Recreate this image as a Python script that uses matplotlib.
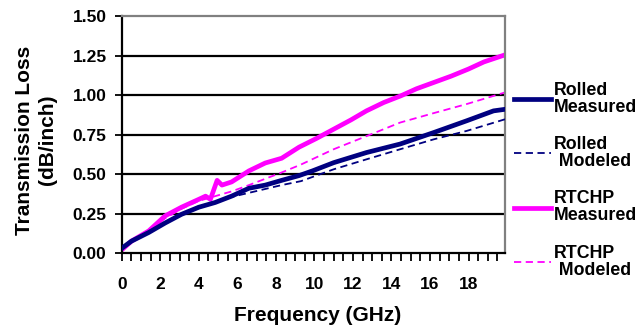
import matplotlib
matplotlib.use("Agg")
import matplotlib.pyplot as plt
from matplotlib.ticker import MultipleLocator

plt.rcParams["font.family"] = ["Liberation Sans", "DejaVu Sans"]
plt.rcParams["font.weight"] = "bold"

# data (GHz, dB/inch)
freq_rolled_meas = [0, 0.5, 1.4, 2.25, 3.1, 4.0, 4.85, 5.7, 6.6, 7.45, 8.3, 9.2,
                    9.9, 11.0, 12.7, 14.45, 16.2, 17.9, 19.3, 19.9]
rolled_meas = [0.03, 0.075, 0.13, 0.19, 0.245, 0.29, 0.32, 0.36, 0.41, 0.43, 0.46,
               0.49, 0.52, 0.572, 0.636, 0.69, 0.763, 0.837, 0.9, 0.91]

freq_rolled_mod = [0, 0.5, 1.4, 2.25, 3.1, 4.0, 5.7, 8.3, 9.3, 11.0, 12.7, 14.45,
                   16.2, 17.9, 19.9]
rolled_mod = [0.03, 0.075, 0.13, 0.19, 0.24, 0.285, 0.355, 0.43, 0.455, 0.53,
              0.593, 0.657, 0.72, 0.773, 0.847]

freq_rtchp_meas = [0, 0.5, 1.4, 2.25, 3.1, 4.0, 4.35, 4.6, 4.95, 5.2, 5.7, 6.6,
                   7.45, 8.3, 9.2, 10.1, 11.0, 11.9, 12.7, 13.6, 14.5, 15.3,
                   16.2, 17.1, 18.0, 18.8, 19.9]
rtchp_meas = [0.02, 0.075, 0.14, 0.235, 0.29, 0.34, 0.36, 0.34, 0.46, 0.43, 0.45,
              0.52, 0.57, 0.60, 0.67, 0.725, 0.784, 0.843, 0.90, 0.953, 0.996,
              1.04, 1.08, 1.12, 1.165, 1.21, 1.255]

freq_rtchp_mod = [0, 0.5, 1.4, 2.25, 3.1, 4.0, 4.85, 5.7, 6.6, 7.45, 8.3, 9.3,
                  11.0, 12.7, 14.45, 16.2, 17.9, 19.9]
rtchp_mod = [0.03, 0.08, 0.14, 0.22, 0.28, 0.33, 0.36, 0.39, 0.43, 0.47, 0.51,
             0.56, 0.657, 0.74, 0.826, 0.886, 0.943, 1.017]

x_ticks = list(range(0, 20, 2))
y_ticks = [0.0, 0.25, 0.5, 0.75, 1.0, 1.25, 1.5]

navy = "#000080"
magenta = "#ff00ff"

fig = plt.figure(figsize=(6.41, 3.29), dpi=100)
ax = fig.add_axes([0.19, 0.231, 0.598, 0.72])

for y in y_ticks[1:-1]:
    ax.axhline(y, color="black", lw=1.6, zorder=1)

ax.plot(freq_rolled_meas, rolled_meas, color=navy, lw=3.4, label="Rolled\nMeasured", zorder=3)
ax.plot(freq_rolled_mod, rolled_mod, color=navy, lw=1.3, ls=(0, (4, 2.5)),
        label="Rolled\n Modeled", zorder=3)
ax.plot(freq_rtchp_meas, rtchp_meas, color=magenta, lw=3.4, label="RTCHP\nMeasured", zorder=2)
ax.plot(freq_rtchp_mod, rtchp_mod, color=magenta, lw=1.3, ls=(0, (4, 2.5)),
        label="RTCHP\n Modeled", zorder=2)

ax.set_xlim(0, 19.9)
ax.set_ylim(0, 1.5)
ax.set_xticks(x_ticks)
ax.xaxis.set_minor_locator(MultipleLocator(0.5))
ax.set_yticks(y_ticks)
ax.set_yticklabels(["%.2f" % v for v in y_ticks])

ax.tick_params(axis="x", which="both", direction="out", length=6, width=1.3,
               pad=11, labelsize=12.5)
ax.tick_params(axis="y", direction="out", length=5, width=1.3, pad=6, labelsize=12.5)
for lbl in ax.get_xticklabels() + ax.get_yticklabels():
    lbl.set_fontweight("bold")

for side in ["left", "bottom"]:
    ax.spines[side].set_linewidth(1.6)
    ax.spines[side].set_color("black")
for side in ["top", "right"]:
    ax.spines[side].set_linewidth(1.6)
    ax.spines[side].set_color("#808080")

ax.set_xlabel("Frequency (GHz)", fontsize=15, fontweight="bold")
ax.xaxis.set_label_coords(0.51, -0.225)
ax.set_ylabel("Transmission Loss\n(dB/inch)", fontsize=15, fontweight="bold",
              linespacing=1.25)
ax.yaxis.set_label_coords(-0.17, 0.477)

leg = fig.legend(loc="upper left", bbox_to_anchor=(0.802, 0.752), frameon=False,
                 prop={"size": 12.8, "weight": "bold"}, handlelength=2.1,
                 handletextpad=0.15, labelspacing=1.15, borderpad=0,
                 borderaxespad=0)
for t in leg.get_texts():
    t.set_linespacing(1.0)

fig.savefig("out.png", dpi=100)
